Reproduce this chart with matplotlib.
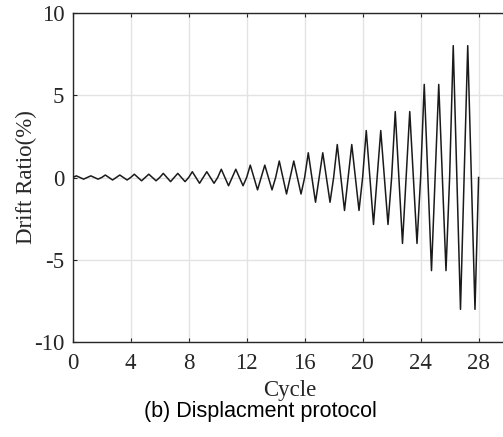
import numpy as np
import matplotlib
matplotlib.use("Agg")
import matplotlib.pyplot as plt

plt.rcParams["axes.unicode_minus"] = False

# amplitude (drift ratio %) of each loading cycle, one cycle per unit of x
amplitudes = [0.1, 0.1, 0.15, 0.15, 0.2, 0.2, 0.25, 0.25, 0.35, 0.35,
              0.5, 0.5, 0.75, 0.75, 1.0, 1.0, 1.5, 1.5, 2.0, 2.0,
              2.85, 2.85, 4.0, 4.0, 5.65, 5.65, 8.0, 8.0]
# shape of a single cycle: 0 -> +A -> 0 -> -A (then back to 0)
cycle_phase = [0.0, 0.25, 0.5, 0.75]
cycle_shape = [0.0, 1.0, 0.0, -1.0]

xticks = [0, 4, 8, 12, 16, 20, 24, 28]
yticks = [-10, -5, 0, 5, 10]

xs, ys = [], []
for i, a in enumerate(amplitudes):
    for p, s in zip(cycle_phase, cycle_shape):
        xs.append(i + p)
        ys.append(a * s)
xs.append(len(amplitudes))
ys.append(0.0)

fig = plt.figure(figsize=(5.03, 4.37), dpi=100)
W, H = 503, 437
left, right, top, bottom = 72.7, 507.6, 12.7, 342.3
ax = fig.add_axes([left / W, 1 - bottom / H, (right - left) / W, (bottom - top) / H])

ax.plot(xs, ys, color="#1a1a1a", lw=1.1, zorder=3)
ax.set_xlim(0, 30)
ax.set_ylim(-10, 10)
ax.set_xticks(xticks)
ax.set_yticks(yticks)
ax.grid(True, color="#e3e3e3", lw=1.0, zorder=0)
ax.set_axisbelow(True)
ax.tick_params(direction="in", length=3, width=0.8, top=True, right=True,
               labelsize=16.5, colors="#262626")
ax.tick_params(axis="x", pad=8)
ax.tick_params(axis="y", pad=6)
for lab in ax.get_xticklabels() + ax.get_yticklabels():
    lab.set_fontfamily("Liberation Serif")
    lab.set_color("#262626")
for sp in ax.spines.values():
    sp.set_color("#262626")
    sp.set_linewidth(1.0)

ax.set_xlabel("Cycle", fontfamily="Liberation Serif", fontsize=16.5, color="#262626", labelpad=4)
ax.set_ylabel("Drift Ratio(%)", fontfamily="Liberation Serif", fontsize=16.5, color="#262626", labelpad=-2.5)

fig.text(260 / W, 1 - 412 / H, "(b) Displacment protocol",
         fontfamily="Liberation Sans", fontsize=15.5, ha="center", va="center", color="black")

fig.savefig("out.png", dpi=100)
